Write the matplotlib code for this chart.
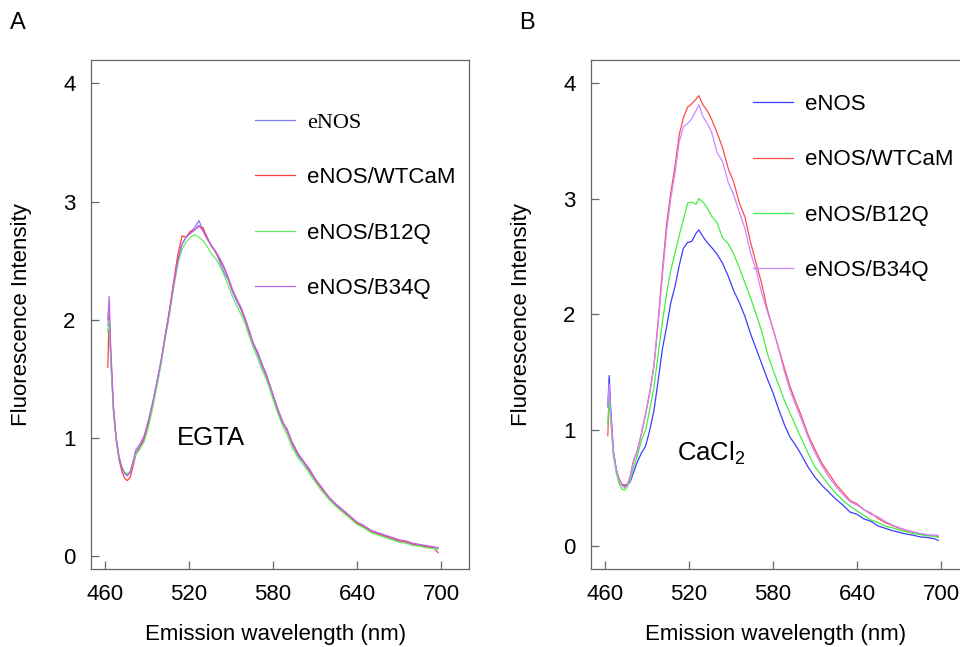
import matplotlib
matplotlib.use('Agg')
import matplotlib.pyplot as plt

plt.rcParams['font.family'] = ['Liberation Sans', 'DejaVu Sans']
plt.rcParams['mathtext.fontset'] = 'custom'
plt.rcParams['mathtext.rm'] = 'Liberation Sans'
plt.rcParams['mathtext.it'] = 'Liberation Sans:italic'

labels = ['eNOS', 'eNOS/WTCaM', 'eNOS/B12Q', 'eNOS/B34Q']

# panel A (EGTA)
wl_a = [462, 463, 464, 466, 468, 470, 472, 474, 476, 478, 480, 482, 485, 488, 491,
        494, 497, 500, 503, 506, 509, 512, 515, 518, 521, 524, 527, 530, 533, 536,
        539, 542, 545, 548, 551, 554, 557, 560, 563, 566, 569, 572, 575, 578, 581,
        584, 587, 590, 594, 598, 602, 606, 610, 615, 620, 625, 630, 635, 640, 645,
        650, 655, 660, 665, 670, 675, 680, 685, 690, 695, 698]
enos_a = [1.95, 2.05, 1.70, 1.25, 1.00, 0.84, 0.75, 0.70, 0.69, 0.71, 0.79, 0.88, 0.93, 1.01, 1.14,
          1.29, 1.47, 1.65, 1.86, 2.07, 2.30, 2.50, 2.64, 2.70, 2.74, 2.78, 2.84, 2.76, 2.70, 2.62,
          2.58, 2.49, 2.40, 2.34, 2.24, 2.16, 2.09, 2.00, 1.89, 1.79, 1.71, 1.61, 1.53, 1.43, 1.32,
          1.21, 1.12, 1.08, 0.94, 0.85, 0.79, 0.72, 0.65, 0.57, 0.50, 0.44, 0.39, 0.34, 0.28, 0.25,
          0.22, 0.19, 0.17, 0.15, 0.13, 0.12, 0.10, 0.09, 0.085, 0.07, 0.075]
wtcam_a = [1.60, 2.05, 1.75, 1.25, 0.98, 0.82, 0.72, 0.66, 0.64, 0.67, 0.76, 0.86, 0.92, 0.99, 1.12,
           1.28, 1.46, 1.64, 1.87, 2.08, 2.32, 2.55, 2.71, 2.70, 2.75, 2.76, 2.79, 2.78, 2.69, 2.63,
           2.57, 2.51, 2.44, 2.35, 2.25, 2.18, 2.10, 2.01, 1.90, 1.80, 1.72, 1.63, 1.54, 1.44, 1.33,
           1.22, 1.13, 1.06, 0.95, 0.86, 0.80, 0.73, 0.65, 0.57, 0.49, 0.43, 0.38, 0.33, 0.28, 0.25,
           0.21, 0.19, 0.17, 0.15, 0.13, 0.12, 0.105, 0.09, 0.08, 0.07, 0.03]
b12q_a = [1.90, 2.00, 1.70, 1.22, 0.98, 0.84, 0.76, 0.71, 0.70, 0.72, 0.79, 0.86, 0.91, 0.97, 1.09,
          1.25, 1.43, 1.62, 1.84, 2.04, 2.27, 2.47, 2.60, 2.66, 2.70, 2.72, 2.70, 2.67, 2.62, 2.56,
          2.52, 2.46, 2.38, 2.29, 2.20, 2.12, 2.05, 1.97, 1.86, 1.76, 1.68, 1.58, 1.50, 1.40, 1.29,
          1.19, 1.10, 1.03, 0.91, 0.83, 0.77, 0.70, 0.63, 0.55, 0.48, 0.42, 0.37, 0.32, 0.27, 0.24,
          0.20, 0.18, 0.16, 0.14, 0.12, 0.11, 0.09, 0.085, 0.07, 0.065, 0.06]
b34q_a = [2.00, 2.20, 1.80, 1.27, 1.00, 0.84, 0.75, 0.70, 0.68, 0.71, 0.80, 0.90, 0.95, 1.02, 1.15,
          1.30, 1.47, 1.65, 1.86, 2.06, 2.29, 2.50, 2.64, 2.70, 2.73, 2.76, 2.80, 2.75, 2.68, 2.63,
          2.58, 2.52, 2.45, 2.36, 2.26, 2.17, 2.11, 2.02, 1.91, 1.80, 1.73, 1.63, 1.55, 1.44, 1.33,
          1.23, 1.14, 1.07, 0.96, 0.87, 0.80, 0.74, 0.66, 0.58, 0.50, 0.44, 0.39, 0.34, 0.29, 0.26,
          0.22, 0.20, 0.18, 0.16, 0.14, 0.13, 0.11, 0.10, 0.09, 0.08, 0.07]

# panel B (CaCl2)
wl_b = [462, 463, 464, 466, 468, 470, 472, 474, 476, 478, 480, 483, 486, 489, 492,
        495, 498, 501, 504, 507, 510, 513, 516, 519, 522, 525, 527, 530, 533, 536,
        540, 544, 548, 552, 556, 560, 564, 568, 572, 576, 580, 584, 588, 592, 596,
        600, 605, 610, 615, 620, 625, 630, 635, 640, 645, 650, 655, 660, 665, 670,
        675, 680, 685, 690, 695, 698]
enos_b = [1.20, 1.47, 1.20, 0.82, 0.66, 0.57, 0.53, 0.52, 0.53, 0.55, 0.62, 0.72, 0.80, 0.86, 1.00,
          1.17, 1.43, 1.70, 1.89, 2.10, 2.24, 2.42, 2.57, 2.62, 2.63, 2.70, 2.73, 2.67, 2.62, 2.58,
          2.52, 2.44, 2.33, 2.20, 2.10, 1.98, 1.83, 1.70, 1.57, 1.44, 1.32, 1.18, 1.05, 0.94, 0.87,
          0.79, 0.68, 0.59, 0.52, 0.46, 0.40, 0.35, 0.29, 0.27, 0.23, 0.21, 0.17, 0.15, 0.13, 0.115,
          0.10, 0.09, 0.075, 0.07, 0.06, 0.045]
wtcam_b = [0.95, 1.30, 1.15, 0.80, 0.66, 0.58, 0.53, 0.51, 0.53, 0.60, 0.72, 0.82, 0.97, 1.14, 1.33,
           1.56, 1.95, 2.38, 2.78, 3.05, 3.28, 3.55, 3.70, 3.79, 3.82, 3.86, 3.89, 3.81, 3.76, 3.69,
           3.57, 3.44, 3.26, 3.14, 2.96, 2.84, 2.62, 2.44, 2.26, 2.04, 1.87, 1.71, 1.54, 1.38, 1.25,
           1.13, 0.96, 0.83, 0.71, 0.62, 0.53, 0.46, 0.39, 0.36, 0.31, 0.28, 0.235, 0.20, 0.175, 0.15,
           0.13, 0.115, 0.10, 0.09, 0.085, 0.08]
b12q_b = [1.05, 1.30, 1.10, 0.78, 0.63, 0.54, 0.49, 0.48, 0.51, 0.56, 0.66, 0.77, 0.91, 1.00, 1.18,
          1.37, 1.66, 1.93, 2.18, 2.38, 2.53, 2.68, 2.82, 2.96, 2.97, 2.95, 3.00, 2.97, 2.92, 2.85,
          2.79, 2.66, 2.61, 2.52, 2.40, 2.27, 2.14, 2.00, 1.85, 1.66, 1.52, 1.39, 1.26, 1.15, 1.04,
          0.93, 0.80, 0.68, 0.60, 0.52, 0.45, 0.39, 0.34, 0.30, 0.26, 0.22, 0.20, 0.17, 0.155, 0.135,
          0.12, 0.105, 0.095, 0.085, 0.08, 0.07]
b34q_b = [1.20, 1.40, 1.15, 0.80, 0.66, 0.57, 0.52, 0.50, 0.52, 0.59, 0.71, 0.81, 0.96, 1.13, 1.32,
          1.55, 1.92, 2.33, 2.72, 3.00, 3.22, 3.49, 3.62, 3.65, 3.69, 3.76, 3.81, 3.71, 3.65, 3.58,
          3.40, 3.32, 3.14, 3.03, 2.88, 2.74, 2.53, 2.38, 2.18, 2.02, 1.88, 1.70, 1.51, 1.35, 1.22,
          1.10, 0.94, 0.80, 0.69, 0.59, 0.51, 0.44, 0.38, 0.35, 0.31, 0.27, 0.25, 0.21, 0.18, 0.155,
          0.135, 0.12, 0.105, 0.095, 0.09, 0.09]

colors_a = ['#8080ff', '#ff4040', '#60f060', '#bb66ee']
colors_b = ['#3c3cff', '#ff4a4a', '#44ee44', '#cc88ff']

fig = plt.figure(figsize=(9.6, 6.47), dpi=100)
ax_a = fig.add_axes([91 / 960, 1 - 568.7 / 647, 378 / 960, 508.9 / 647])
ax_b = fig.add_axes([591 / 960, 1 - 568.7 / 647, 378 / 960, 508.9 / 647])

for ys, c, lab in zip([enos_a, wtcam_a, b12q_a, b34q_a], colors_a, labels):
    ax_a.plot(wl_a, ys, color=c, lw=0.9, label=lab)
for ys, c, lab in zip([enos_b, wtcam_b, b12q_b, b34q_b], colors_b, labels):
    ax_b.plot(wl_b, ys, color=c, lw=0.9, label=lab)

ax_a.set_ylim(-0.105, 4.2)
ax_b.set_ylim(-0.2, 4.2)

for ax in (ax_a, ax_b):
    ax.set_xlim(450, 720)
    ax.set_xticks([460, 520, 580, 640, 700])
    ax.set_yticks([0, 1, 2, 3, 4])
    for sp in ax.spines.values():
        sp.set_color('#666666')
        sp.set_linewidth(0.9)
    ax.tick_params(direction='in', length=6, width=0.9, color='#666666',
                   labelsize=16, pad=11)
    ax.set_xlabel('Emission wavelength (nm)', fontsize=16)
    ax.set_ylabel('Fluorescence Intensity', fontsize=16)
    ax.xaxis.set_label_coords(0.487, -0.108)
    ax.yaxis.set_label_coords(-0.155, 0.5)

leg_kw = dict(loc='upper left', frameon=False, fontsize=16, handlelength=1.8,
              handletextpad=0.54, labelspacing=1.55, borderpad=0, borderaxespad=0)
leg_a = ax_a.legend(bbox_to_anchor=(0.434, 0.897), **leg_kw)
leg_a.get_texts()[0].set_family('Liberation Serif')
ax_b.legend(bbox_to_anchor=(0.4286, 0.933), **leg_kw)

ax_a.text(536, 1.0, 'EGTA', fontsize=18.5, ha='center', va='center')
ax_b.text(511.6, 0.8, 'CaCl$_2$', fontsize=18.5, ha='left', va='center')

fig.text(10 / 960, 1 - 12 / 647, 'A', fontsize=17, va='top')
fig.text(519 / 960, 1 - 12 / 647, 'B', fontsize=17, va='top')

fig.savefig('out.png', dpi=100)
